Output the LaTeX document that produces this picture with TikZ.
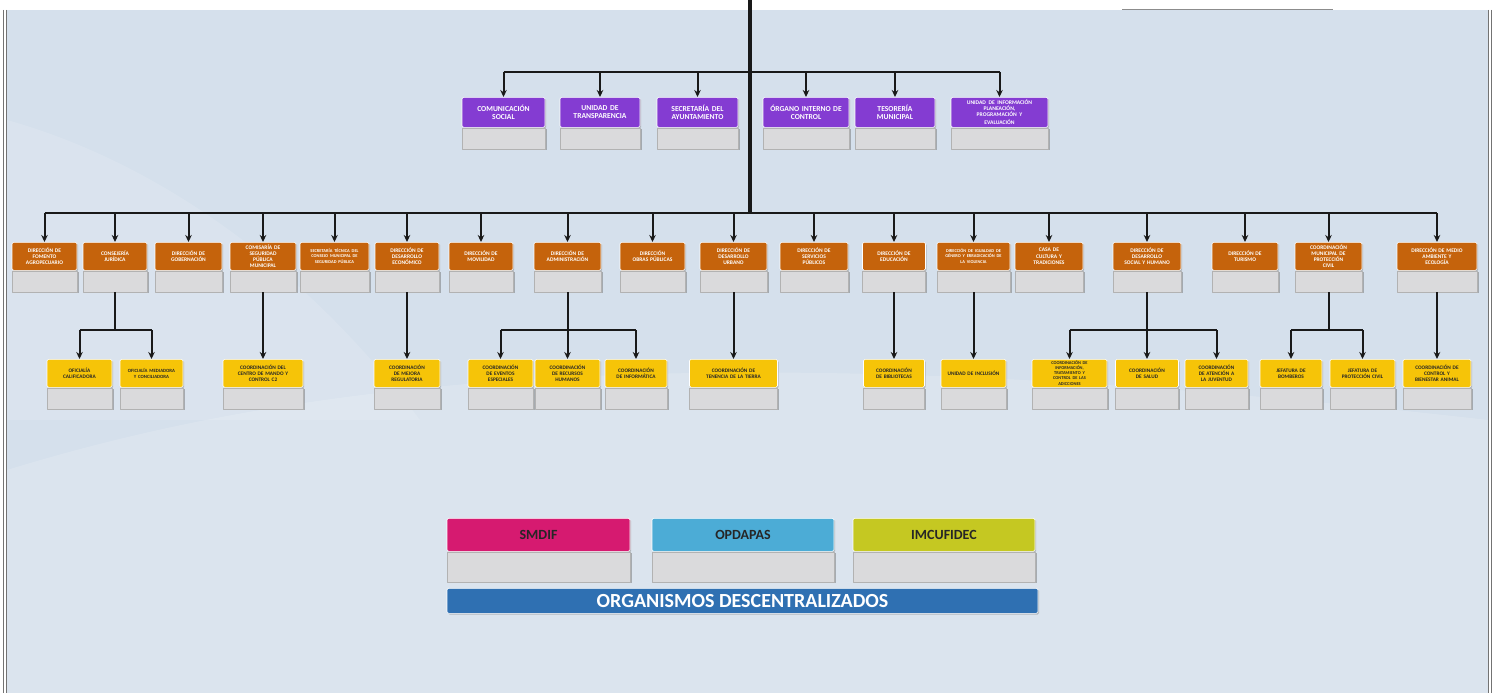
\documentclass[tikz,border=0pt]{standalone}
\usepackage{fontspec}
\setmainfont{Carlito}
\usetikzlibrary{positioning,arrows.meta,shadows}
\definecolor{bgblue}{RGB}{213,224,236}
\definecolor{purpfill}{RGB}{132,60,210}
\definecolor{orngfill}{RGB}{197,99,12}
\definecolor{yellfill}{RGB}{246,196,8}
\definecolor{basegray}{RGB}{218,218,220}
\definecolor{smdifcol}{RGB}{214,26,112}
\definecolor{opdapascol}{RGB}{76,172,214}
\definecolor{imcucol}{RGB}{197,200,34}
\definecolor{orgblue}{RGB}{47,112,178}
% coloured box with its grey base below
\newcommand{\orgunit}[6][65]{%
  \node[#3 box,text width=#1pt] (#2) at (#4,#5) {#6};
  \node[#3 base,minimum width=#1pt,below=0pt of #2] (#2g) {};
}
\begin{document}
\begin{tikzpicture}[x=1pt,y=-1pt,line join=round,>={Stealth[length=7pt,width=6.5pt]}]
	\tikzset{
		wire/.style={line width=2pt,draw=black!90},
		trunk/.style={line width=3.2pt,draw=black!90},
		arr/.style={wire,->},
		orgbox/.style={anchor=north,draw=white,line width=0.6pt,rounded corners=1.5pt,align=center,inner xsep=0pt,inner ysep=1pt,
			drop shadow={shadow xshift=1.2pt,shadow yshift=-1.2pt,fill=black!45}},
		purple box/.style={orgbox,fill=purpfill,text=white,minimum height=30pt,font=\bfseries\fontsize{7.6}{8.2}\selectfont},
		orange box/.style={orgbox,fill=orngfill,text=white,minimum height=28pt,font=\bfseries\fontsize{5.5}{6.2}\selectfont},
		yellow box/.style={orgbox,fill=yellfill,text=black!85,minimum height=28pt,font=\bfseries\fontsize{5.3}{6}\selectfont},
		base/.style={fill=basegray,draw=black!30,line width=0.5pt,inner sep=0pt,minimum height=21pt,
			drop shadow={shadow xshift=1.5pt,shadow yshift=-1.5pt,fill=black!55}},
		purple base/.style={base},
		orange base/.style={base},
		yellow base/.style={base},
		big box/.style={orgbox,minimum height=33pt,text=black!85,font=\bfseries\fontsize{14}{16}\selectfont},
		big base/.style={base,minimum height=30pt},
		smdif box/.style={big box,fill=smdifcol},
		opdapas box/.style={big box,fill=opdapascol},
		imcu box/.style={big box,fill=imcucol},
		smdif base/.style={big base},
		opdapas base/.style={big base},
		imcu base/.style={big base}
	}
	\useasboundingbox (0,0) rectangle (1497,693);
	% background
	\fill[white] (0,0) rectangle (1497,693);
	\fill[bgblue] (7,10) rectangle (1488,693);
	\fill[white,opacity=0.15] (7,470) .. controls (300,380) and (700,330) .. (1488,420) -- (1488,693) -- (7,693) -- cycle;
	\fill[white,opacity=0.12] (7,120) .. controls (150,160) and (300,260) .. (420,420) -- (7,420) -- cycle;
	\draw[black!55,line width=0.8pt] (3,10) -- (3,693) (6,10) -- (6,693);
	\draw[black!55,line width=0.8pt] (1488.5,10) -- (1488.5,693) (1491.5,10) -- (1491.5,693);
	\draw[black!45,line width=1pt] (1122,10) -- (1333,10);

	% top level
	\coordinate (top) at (750,0);
	\coordinate (split) at (750,213);
	\draw[trunk] (top) -- (split);
	\orgunit[83]{p1}{purple}{503.5}{97}{COMUNICACIÓN\\SOCIAL}
	\orgunit[80]{p2}{purple}{600}{97}{UNIDAD DE\\TRANSPARENCIA}
	\orgunit[81]{p3}{purple}{697.5}{97}{SECRETARÍA DEL\\AYUNTAMIENTO}
	\orgunit[86]{p4}{purple}{806}{97}{ÓRGANO INTERNO DE\\CONTROL}
	\orgunit[80]{p5}{purple}{895}{97}{TESORERÍA\\MUNICIPAL}
	\orgunit[97]{p6}{purple}{999.5}{97}{\fontsize{5.6}{6.2}\selectfont UNIDAD DE INFORMACIÓN\\PLANEACIÓN,\\PROGRAMACIÓN Y\\EVALUACIÓN}
	\draw[wire] (p1 |- 0,72) -- (p6 |- 0,72);
	\foreach \n in {p1,p2,p3,p4,p5,p6}
		\draw[arr] (\n |- 0,72) -- (\n.north);

	% direcciones
	\orgunit[65]{o1}{orange}{44.5}{242}{DIRECCIÓN DE\\FOMENTO\\AGROPECUARIO}
	\orgunit[64]{o2}{orange}{115}{242}{CONSEJERÍA\\JURÍDICA}
	\orgunit[67]{o3}{orange}{188.5}{242}{DIRECCIÓN DE\\GOBERNACIÓN}
	\orgunit[66]{o4}{orange}{263}{242}{COMISARÍA DE\\SEGURIDAD\\PÚBLICA\\MUNICIPAL}
	\orgunit[69]{o5}{orange}{334.5}{242}{\fontsize{4.4}{5.2}\selectfont SECRETARÍA TÉCNICA DEL\\CONSEJO MUNICIPAL DE\\SEGURIDAD PÚBLICA}
	\orgunit[64]{o6}{orange}{407}{242}{DIRECCIÓN DE\\DESARROLLO\\ECONÓMICO}
	\orgunit[64]{o7}{orange}{481}{242}{DIRECCIÓN DE\\MOVILIDAD}
	\orgunit[67]{o8}{orange}{567.5}{242}{DIRECCIÓN DE\\ADMINISTRACIÓN}
	\orgunit[65]{o9}{orange}{652.5}{242}{DIRECCIÓN\\OBRAS PÚBLICAS}
	\orgunit[67]{o10}{orange}{733.5}{242}{DIRECCIÓN DE\\DESARROLLO\\URBANO}
	\orgunit[68]{o11}{orange}{814}{242}{DIRECCIÓN DE\\SERVICIOS\\PÚBLICOS}
	\orgunit[63]{o12}{orange}{894}{242}{DIRECCIÓN DE\\EDUCACIÓN}
	\orgunit[73]{o13}{orange}{973.5}{242}{\fontsize{4.4}{5.2}\selectfont DIRECCIÓN DE IGUALDAD DE\\GÉNERO Y ERRADICACIÓN DE\\LA VIOLENCIA}
	\orgunit[68]{o14}{orange}{1049}{242}{CASA DE\\CULTURA Y\\TRADICIONES}
	\orgunit[68]{o15}{orange}{1147}{242}{DIRECCIÓN DE\\DESARROLLO\\SOCIAL Y HUMANO}
	\orgunit[66]{o16}{orange}{1245}{242}{DIRECCIÓN DE\\TURISMO}
	\orgunit[67]{o17}{orange}{1328.5}{242}{COORDINACIÓN\\MUNICIPAL DE\\PROTECCIÓN\\CIVIL}
	\orgunit[80]{o18}{orange}{1437}{242}{DIRECCIÓN DE MEDIO\\AMBIENTE Y\\ECOLOGÍA}
	\draw[wire] (o1 |- split) -- (o18 |- split);
	\foreach \n in {o1,o2,o3,o4,o5,o6,o7,o8,o9,o10,o11,o12,o13,o14,o15,o16,o17,o18}
		\draw[arr] (\n |- split) -- (\n.north);

	% coordinaciones
	\orgunit[65]{y1}{yellow}{79.5}{359}{OFICIALÍA\\CALIFICADORA}
	\orgunit[63]{y2}{yellow}{151.5}{359}{\fontsize{4.8}{5.6}\selectfont OFICIALÍA MEDIADORA\\Y CONCILIADORA}
	\orgunit[80]{y3}{yellow}{263}{359}{COORDINACIÓN DEL\\CENTRO DE MANDO Y\\CONTROL C2}
	\orgunit[66]{y4}{yellow}{407}{359}{COORDINACIÓN\\DE MEJORA\\REGULATORIA}
	\orgunit[65]{y5}{yellow}{500.5}{359}{COORDINACIÓN\\DE EVENTOS\\ESPECIALES}
	\orgunit[65]{y6}{yellow}{567.5}{359}{COORDINACIÓN\\DE RECURSOS\\HUMANOS}
	\orgunit[62]{y7}{yellow}{636}{359}{COORDINACIÓN\\DE INFORMÁTICA}
	\orgunit[88]{y8}{yellow}{733.5}{359}{COORDINACIÓN DE\\TENENCIA DE LA TIERRA}
	\orgunit[61]{y9}{yellow}{894}{359}{COORDINACIÓN\\DE BIBLIOTECAS}
	\orgunit[65]{y10}{yellow}{973.5}{359}{UNIDAD DE INCLUSIÓN}
	\orgunit[75]{y11}{yellow}{1069.5}{359}{\fontsize{4.4}{5}\selectfont COORDINACIÓN DE\\INFORMACIÓN,\\TRATAMIENTO Y\\CONTROL DE LAS\\ADICCIONES}
	\orgunit[63]{y12}{yellow}{1147}{359}{COORDINACIÓN\\DE SALUD}
	\orgunit[63]{y13}{yellow}{1216.5}{359}{COORDINACIÓN\\DE ATENCIÓN A\\LA JUVENTUD}
	\orgunit[62]{y14}{yellow}{1291}{359}{JEFATURA DE\\BOMBEROS}
	\orgunit[65]{y15}{yellow}{1362.5}{359}{JEFATURA DE\\PROTECCIÓN CIVIL}
	\orgunit[68]{y16}{yellow}{1437}{359}{COORDINACIÓN DE\\CONTROL Y\\BIENESTAR ANIMAL}

	% single links
	\draw[arr] (o4g.south) -- (y3.north);
	\draw[arr] (o6g.south) -- (y4.north);
	\draw[arr] (o10g.south) -- (y8.north);
	\draw[arr] (o12g.south) -- (y9.north);
	\draw[arr] (o13g.south) -- (y10.north);
	\draw[arr] (o18g.south) -- (y16.north);
	% grouped links
	\draw[wire] (o2g.south) -- (o2g.south |- 0,330) coordinate (j2);
	\draw[wire] (y1 |- j2) -- (y2 |- j2);
	\draw[arr] (y1 |- j2) -- (y1.north);
	\draw[arr] (y2 |- j2) -- (y2.north);
	\draw[wire] (o8g.south) -- (o8g.south |- 0,330) coordinate (j8);
	\draw[wire] (y5 |- j8) -- (y7 |- j8);
	\foreach \n in {y5,y6,y7}
		\draw[arr] (\n |- j8) -- (\n.north);
	\draw[wire] (o15g.south) -- (o15g.south |- 0,330) coordinate (j15);
	\draw[wire] (y11 |- j15) -- (y13 |- j15);
	\foreach \n in {y11,y12,y13}
		\draw[arr] (\n |- j15) -- (\n.north);
	\draw[wire] (o17g.south) -- (o17g.south |- 0,330) coordinate (j17);
	\draw[wire] (y14 |- j17) -- (y15 |- j17);
	\foreach \n in {y14,y15}
		\draw[arr] (\n |- j17) -- (\n.north);

	% organismos descentralizados
	\orgunit[183]{smdif}{smdif}{538.5}{518}{SMDIF}
	\orgunit[182]{opdapas}{opdapas}{743}{518}{OPDAPAS}
	\orgunit[182]{imcufidec}{imcu}{944}{518}{IMCUFIDEC}
	\node[orgbox,fill=orgblue,text=white,minimum width=591pt,minimum height=25pt,inner ysep=0pt,
		font=\bfseries\fontsize{20}{22}\selectfont] (org) at (742.5,588) {ORGANISMOS DESCENTRALIZADOS};
\end{tikzpicture}
\end{document}
